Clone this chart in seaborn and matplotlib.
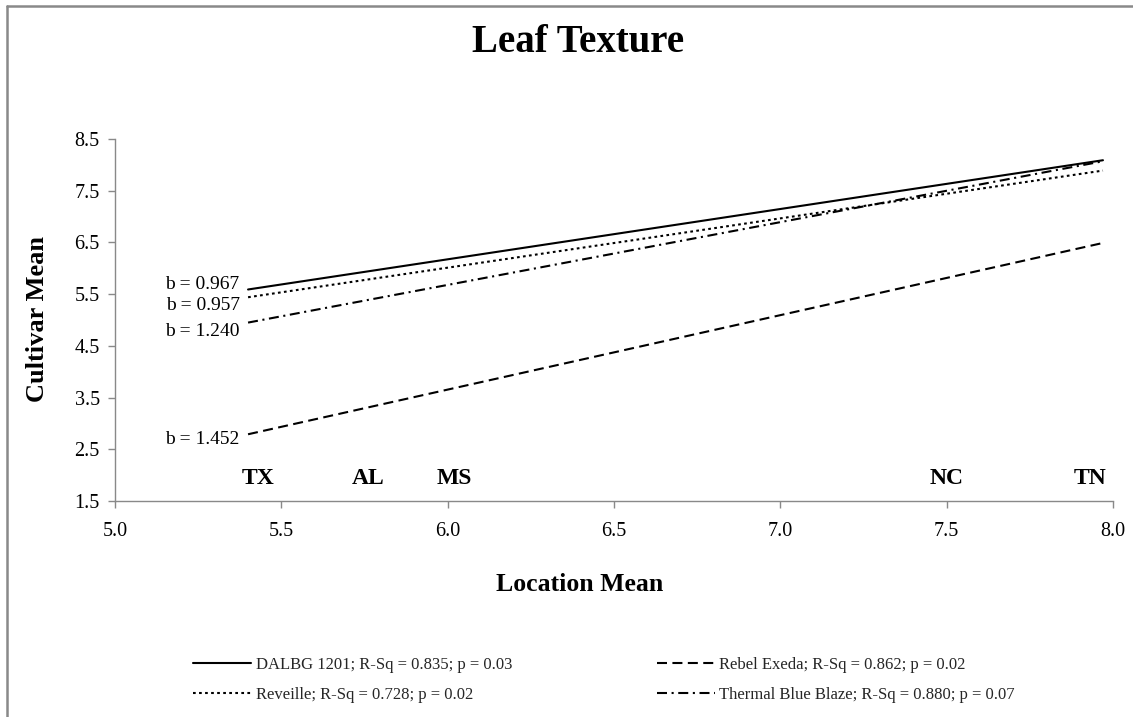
import matplotlib
matplotlib.use("Agg")
import matplotlib.pyplot as plt
from matplotlib.lines import Line2D
import seaborn as sns
import pandas as pd

# regression lines: cultivar mean at the lowest (TX) and highest (TN) location mean
cultivars = ["DALBG 1201", "Reveille", "Rebel Exeda", "Thermal Blue Blaze"]
r_sq = ["0.835", "0.728", "0.862", "0.880"]
p_vals = ["0.03", "0.02", "0.02", "0.07"]
slopes = ["0.967", "0.957", "1.452", "1.240"]
loc_range = [5.40, 7.97]
start_vals = [5.59, 5.44, 2.79, 4.95]
end_vals = [8.09, 7.89, 6.49, 8.07]

locations = ["TX", "AL", "MS", "NC", "TN"]
location_means = [5.43, 5.76, 6.02, 7.50, 7.93]

GRAY = "#898989"

sns.set_theme(style="white")
plt.rcParams["font.family"] = ["Liberation Serif", "DejaVu Serif"]

rows = []
for name, y0, y1 in zip(cultivars, start_vals, end_vals):
    rows.append({"cultivar": name, "loc_mean": loc_range[0], "cv_mean": y0})
    rows.append({"cultivar": name, "loc_mean": loc_range[1], "cv_mean": y1})
df = pd.DataFrame(rows)

styles = {
    "DALBG 1201": "-",
    "Reveille": (0, (1.3, 1.6)),
    "Rebel Exeda": (0, (4.8, 2.6)),
    "Thermal Blue Blaze": (0, (4.8, 2.2, 1.0, 2.2)),
}

fig = plt.figure(figsize=(11.33, 7.17), dpi=100)
ax = fig.add_axes([0.1015, 0.3013, 0.8808, 0.5048])

handles = []
for name, rs, pv in zip(cultivars, r_sq, p_vals):
    sub = df[df["cultivar"] == name]
    sns.lineplot(data=sub, x="loc_mean", y="cv_mean", ax=ax, color="black",
                 linestyle=styles[name], linewidth=1.5, legend=False)
    handles.append(Line2D([], [], color="black", linestyle=styles[name], linewidth=1.5,
                          label=f"{name}; R-Sq = {rs}; p = {pv}"))

# slope labels next to line starts
b_offsets = [0.09, -0.15, -0.11, -0.18]
for b, y0, off in zip(slopes, start_vals, b_offsets):
    ax.text(loc_range[0] - 0.025, y0 + off, f"b = {b}", ha="right", va="center",
            fontsize=14, color="black")

for lab, xm in zip(locations, location_means):
    ax.text(xm, 1.93, lab, ha="center", va="center", fontsize=17,
            fontweight="bold", color="black")

ax.set_xlim(5.0, 8.0)
ax.set_ylim(1.5, 8.5)
ax.set_xticks([5.0, 5.5, 6.0, 6.5, 7.0, 7.5, 8.0])
ax.set_yticks([1.5, 2.5, 3.5, 4.5, 5.5, 6.5, 7.5, 8.5])
ax.set_xticklabels([f"{v:.1f}" for v in ax.get_xticks()])
ax.set_yticklabels([f"{v:.1f}" for v in ax.get_yticks()])
ax.tick_params(axis="both", direction="out", length=5, width=1, color=GRAY,
               labelsize=14.5, labelcolor="black", left=True, bottom=True)
ax.tick_params(axis="x", pad=10)
ax.tick_params(axis="y", pad=6)

for side in ["top", "right"]:
    ax.spines[side].set_visible(False)
for side in ["left", "bottom"]:
    ax.spines[side].set_color(GRAY)
    ax.spines[side].set_linewidth(1)
ax.grid(False)

ax.set_xlabel("Location Mean", fontsize=18.5, fontweight="bold", color="black")
ax.set_ylabel("Cultivar Mean", fontsize=19, fontweight="bold", color="black")
ax.xaxis.set_label_coords(0.466, -0.232)
ax.xaxis.label.set_va("center")
ax.yaxis.set_label_coords(-0.078, 0.503)
ax.yaxis.label.set_va("center")

fig.suptitle("Leaf Texture", x=578 / 1133, y=1 - 43 / 717, va="center",
             fontsize=28, fontweight="bold", color="black")

fig.legend(handles=handles, ncol=2, loc="center left",
           bbox_to_anchor=(193 / 1133, 1 - 680 / 717), frameon=False,
           fontsize=12, handlelength=3.5, handletextpad=0.25,
           columnspacing=8.7, labelspacing=0.85, borderpad=0, borderaxespad=0)

# outer chart frame (left and top edges visible in the crop)
fig.add_artist(Line2D([7 / 1133, 7 / 1133], [0, 1 - 6 / 717], color=GRAY, linewidth=1.8,
                      transform=fig.transFigure))
fig.add_artist(Line2D([7 / 1133, 1], [1 - 6 / 717, 1 - 6 / 717], color=GRAY, linewidth=1.8,
                      transform=fig.transFigure))

fig.savefig("out.png", dpi=100, facecolor="white")
